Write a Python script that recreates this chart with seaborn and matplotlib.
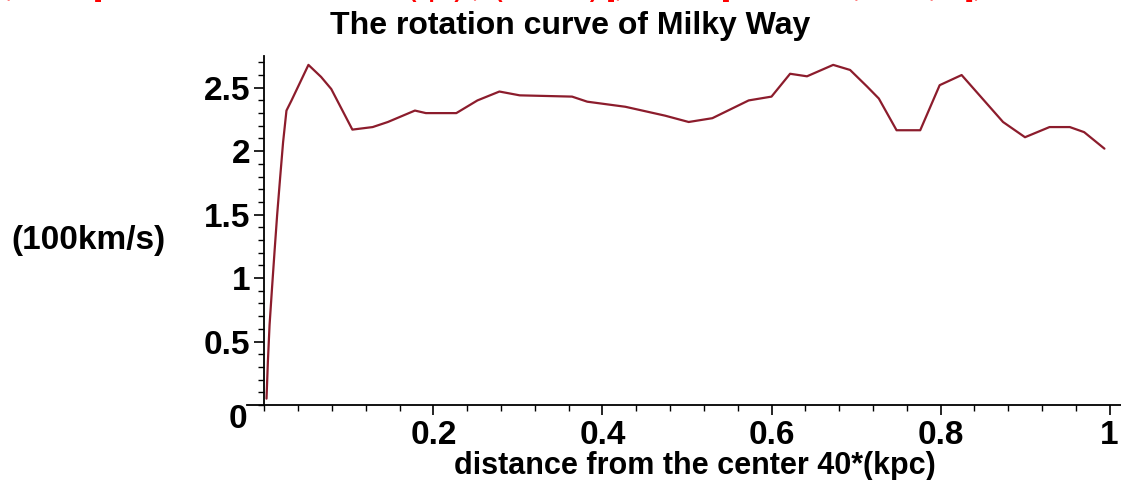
import matplotlib
matplotlib.use('Agg')
import matplotlib.pyplot as plt
import numpy as np
import pandas as pd
import seaborn as sns
from matplotlib.ticker import MultipleLocator

# distance from the center, in units of 40 kpc
dist = [0.0024, 0.004, 0.006, 0.009, 0.012, 0.015, 0.0185, 0.022, 0.026, 0.032,
        0.052, 0.067, 0.079, 0.104, 0.128, 0.146, 0.178, 0.191, 0.227, 0.252,
        0.278, 0.302, 0.364, 0.382, 0.427, 0.474, 0.502, 0.530, 0.573, 0.600,
        0.622, 0.642, 0.673, 0.693, 0.713, 0.727, 0.748, 0.776, 0.799, 0.825,
        0.874, 0.900, 0.929, 0.953, 0.970, 0.994]
# rotation speed, in units of 100 km/s
speed = [0.05, 0.34, 0.63, 0.93, 1.22, 1.50, 1.79, 2.07, 2.32, 2.40,
         2.68, 2.585, 2.49, 2.17, 2.19, 2.23, 2.32, 2.30, 2.30, 2.40,
         2.47, 2.44, 2.43, 2.39, 2.35, 2.28, 2.23, 2.26, 2.40, 2.43,
         2.61, 2.59, 2.68, 2.64, 2.51, 2.415, 2.165, 2.165, 2.52, 2.60,
         2.23, 2.11, 2.19, 2.19, 2.15, 2.02]

xticks = [0.2, 0.4, 0.6, 0.8, 1]
xtick_labels = ['0.2', '0.4', '0.6', '0.8', '1']
yticks = [0.5, 1, 1.5, 2, 2.5]
ytick_labels = ['0.5', '1', '1.5', '2', '2.5']

title = 'The rotation curve of Milky Way'
xlabel = 'distance from the center 40*(kpc)'
ylabel = '(100km/s)'
command_tail = (', labels=["distance from the center 40*(kpc)", "(100km/s)"], '
                'titlefont=[HELVETICA, BOLD, 14], color=COLOR(RGB, .5, 0, .1)];')

sns.set_style('ticks')
plt.rcParams['font.family'] = ['Liberation Sans', 'DejaVu Sans']
plt.rcParams['font.weight'] = 'bold'
plt.rcParams['text.color'] = 'black'
plt.rcParams['xtick.color'] = 'black'
plt.rcParams['ytick.color'] = 'black'

df = pd.DataFrame({'dist': dist, 'speed': speed})

fig = plt.figure(figsize=(11.21, 4.8), dpi=100)
ax = fig.add_axes([247 / 1121, 1 - 405 / 480, 1 - 247 / 1121, (405 - 56) / 480])

sns.lineplot(data=df, x='dist', y='speed', ax=ax, color='#8c1c2c', linewidth=1.6)

ax.set_xlim(-0.0207, 1.0136)
ax.set_ylim(0, 2.75)
ax.spines['left'].set_position(('data', 0))
ax.spines['top'].set_visible(False)
ax.spines['right'].set_visible(False)
for s in ('left', 'bottom'):
    ax.spines[s].set_linewidth(1.3)
    ax.spines[s].set_color('black')

ax.set_xticks(xticks)
ax.set_xticklabels(xtick_labels, fontsize=24, fontweight='bold')
ax.set_yticks(yticks)
ax.set_yticklabels(ytick_labels, fontsize=24, fontweight='bold')
ax.xaxis.set_minor_locator(MultipleLocator(0.04))
ax.yaxis.set_minor_locator(MultipleLocator(0.1))
ax.tick_params(axis='x', which='major', length=7, width=1.2, pad=4)
ax.tick_params(axis='y', which='major', length=7, width=1.2, pad=3)
ax.tick_params(axis='both', which='minor', length=4, width=1.0)
ax.set_xlabel('')
ax.set_ylabel('')

# corner zero label
fig.text(238 / 1121, 1 - 419 / 480, '0', fontsize=24, fontweight='bold',
         ha='center', va='center')
fig.text(570 / 1121, 1 - 26 / 480, title, fontsize=23, fontweight='bold',
         ha='center', va='center')
fig.text(695 / 1121, 1 - 466 / 480, xlabel, fontsize=22, fontweight='bold',
         ha='center', va='center')
fig.text(88 / 1121, 1 - 240 / 480, ylabel, fontsize=24, fontweight='bold',
         ha='center', va='center')
# tail of the command line above the plot, mostly cut off by the top edge
fig.text(0.005, 1 + 3 / 480, command_tail, fontsize=16, color='red',
         ha='left', va='baseline')

fig.savefig('out.png', dpi=100)
